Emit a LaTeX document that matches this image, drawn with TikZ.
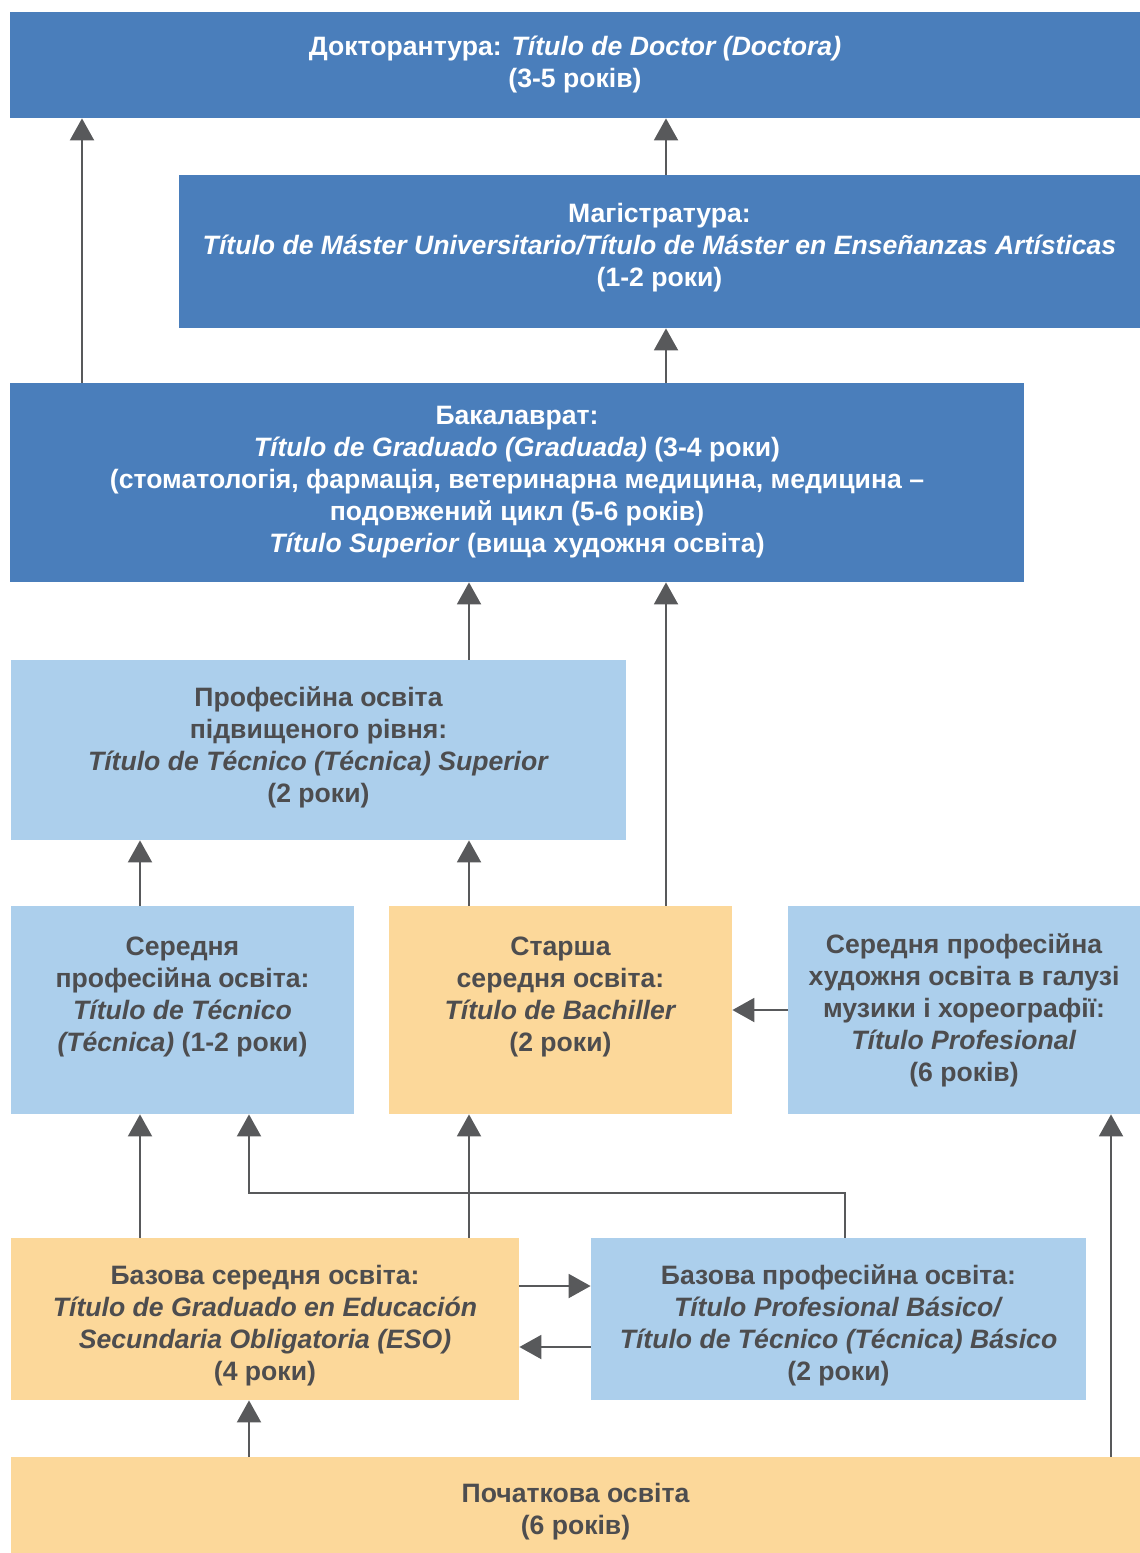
\documentclass[tikz,border=0pt]{standalone}
\usepackage{fontspec}
\setmainfont{Liberation Sans}
\usetikzlibrary{positioning,arrows.meta}

\definecolor{dkblue}{RGB}{74,126,187}
\definecolor{ltblue}{RGB}{172,207,236}
\definecolor{ltorange}{RGB}{252,216,154}
\definecolor{txtgray}{RGB}{77,77,79}
\definecolor{arrgray}{RGB}{88,89,91}

% struts that move a box text up or down a little
\newcommand{\topstrut}[1]{\rule{0pt}{#1}}
\newcommand{\botstrut}[1]{\rule[-#1]{0pt}{0pt}}

\begin{document}
\begin{tikzpicture}
    [%%%%%%%%%%%%%%%%%%%%%%%%%%%%%%
    x=0.5pt,y=-0.5pt,
    box/.style={rectangle,inner sep=0pt,align=center,
        font=\bfseries\fontsize{13.3}{16}\selectfont},
    sz/.style 2 args={minimum width=#1*0.5pt,minimum height=#2*0.5pt},
    dkbox/.style={box,fill=dkblue,text=white},
    blbox/.style={box,fill=ltblue,text=txtgray},
    orbox/.style={box,fill=ltorange,text=txtgray},
    arr/.style={-{Triangle[width=12pt,length=11pt]},line width=1pt,draw=arrgray},
    ]%%%%%%%%%%%%%%%%%%%%%%%%%%%%%%

    \useasboundingbox (0,0) rectangle (1140,1553);

    % top level
    \node[dkbox,sz={1130}{106}] at (575,65) (doc)
        {Докторантура: \textit{Título de Doctor (Doctora)}\\(3-5 років)};
    \node[dkbox,sz={961}{153}] at (659.5,251.5) (mag)
        {Магістратура:\\\textit{Título de Máster Universitario/Título de Máster en Enseñanzas Artísticas}\\(1-2 роки)\botstrut{6.8pt}};
    \node[dkbox,sz={1014}{199}] at (517,482.5) (bach)
        {Бакалаврат:\\\textit{Título de Graduado (Graduada)} (3-4 роки)\\(стоматологія, фармація, ветеринарна медицина, медицина –\\подовжений цикл (5-6 років)\\\textit{Título Superior} (вища художня освіта)};

    % middle level
    \node[blbox,sz={615}{180}] at (318.5,750) (profsup)
        {Професійна освіта\\підвищеного рівня:\\\textit{Título de Técnico (Técnica) Superior}\\(2 роки)\botstrut{5.8pt}};
    \node[blbox,sz={343}{208}] at (182.5,1010) (serprof)
        {Середня\\професійна освіта:\\\textit{Título de Técnico}\\\textit{(Técnica)} (1-2 роки)\\\mbox{}};
    \node[orbox,sz={343}{208}] at (560.5,1010) (starsh)
        {Старша\\середня освіта:\\\textit{Título de Bachiller}\\(2 роки)\\\mbox{}};
    \node[blbox,sz={352}{208}] at (964,1010) (muz)
        {Середня професійна\\художня освіта в галузі\\музики і хореографії:\\\textit{Título Profesional}\\(6 років)};

    % lower level
    \node[orbox,sz={508}{162}] at (265,1319) (bazser)
        {\topstrut{16.5pt}Базова середня освіта:\\\textit{Título de Graduado en Educación}\\\textit{Secundaria Obligatoria (ESO)}\\(4 роки)};
    \node[blbox,sz={495}{162}] at (838.5,1319) (bazprof)
        {\topstrut{16.5pt}Базова професійна освіта:\\\textit{Título Profesional Básico/}\\\textit{Título de Técnico (Técnica) Básico}\\(2 роки)};
    \node[orbox,sz={1129}{96}] at (575.5,1505) (poch)
        {\topstrut{16.5pt}Початкова освіта\\(6 років)};

    % columns and rows of the connectors
    \coordinate (colA) at (82,0);
    \coordinate (colB) at (666,0);
    \coordinate (colC) at (469,0);
    \coordinate (colD) at (140,0);
    \coordinate (colF) at (249,0);
    \coordinate (colG) at (1111,0);
    \coordinate (rowA) at (0,1286);
    \coordinate (rowB) at (0,1347);
    \coordinate (bendR) at (845,1193);
    \coordinate (bendL) at (249,1193);

    % connectors
    \draw[arr] (bach.north -| colA) -- (doc.south -| colA);
    \draw[arr] (mag.north -| colB) -- (doc.south -| colB);
    \draw[arr] (bach.north -| colB) -- (mag.south -| colB);
    \draw[arr] (profsup.north -| colC) -- (bach.south -| colC);
    \draw[arr] (starsh.north -| colB) -- (bach.south -| colB);
    \draw[arr] (serprof.north -| colD) -- (profsup.south -| colD);
    \draw[arr] (starsh.north -| colC) -- (profsup.south -| colC);
    \draw[arr] (muz.west) -- (starsh.east);
    \draw[arr] (bazser.north -| colD) -- (serprof.south -| colD);
    \draw[arr] (bazser.north -| colC) -- (starsh.south -| colC);
    \draw[arr] (bazprof.north -| bendR) -- (bendR) -- (bendL) -- (serprof.south -| bendL);
    \draw[arr] (bazser.east |- rowA) -- (bazprof.west |- rowA);
    \draw[arr] (bazprof.west |- rowB) -- (bazser.east |- rowB);
    \draw[arr] (poch.north -| colF) -- (bazser.south -| colF);
    \draw[arr] (poch.north -| colG) -- (muz.south -| colG);
\end{tikzpicture}
\end{document}
